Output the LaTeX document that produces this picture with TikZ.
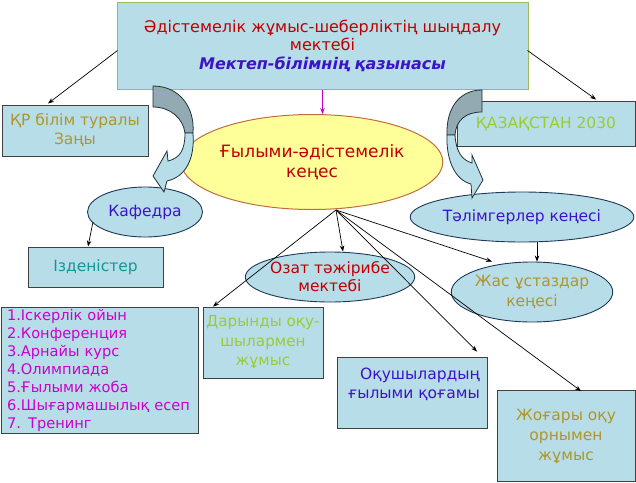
\documentclass[tikz,border=0pt]{standalone}
\usepackage{fontspec}
\setmainfont{DejaVu Sans}
\usetikzlibrary{arrows.meta,calc,shapes.geometric}

\definecolor{boxfill}{RGB}{183,221,232}
\definecolor{topborder}{RGB}{155,187,89}
\definecolor{boxborder}{RGB}{64,64,64}
\definecolor{ellborder}{RGB}{31,56,90}
\definecolor{yellowfill}{RGB}{255,255,153}
\definecolor{yellowborder}{RGB}{190,110,60}
\definecolor{darkred}{RGB}{192,0,0}
\definecolor{bluepurple}{RGB}{60,20,200}
\definecolor{olivetxt}{RGB}{176,150,40}
\definecolor{lgreen}{RGB}{153,204,51}
\definecolor{tealtxt}{RGB}{20,150,150}
\definecolor{magtxt}{RGB}{204,0,204}
\definecolor{arrowdark}{RGB}{147,170,178}
\definecolor{arrowline}{RGB}{30,50,60}

\begin{document}
\begin{tikzpicture}[x=1pt,y=-1pt,
  box/.style={draw=boxborder, line width=1pt, fill=boxfill, rectangle, inner sep=0pt, align=center},
  oval/.style={draw=ellborder, line width=0.9pt, fill=boxfill, ellipse, inner sep=0pt, align=center},
  conn/.style={draw=black, line width=0.7pt, -{Stealth[length=6pt,width=4.5pt]}},
  txt/.style={font=\fontsize{15.5}{19}\selectfont},
  curv/.style={draw=arrowline, line width=0.8pt}
]
\useasboundingbox (0,0) rectangle (636,482);

% boxes
\node[box, draw=topborder, minimum width=411pt, minimum height=87pt,
      font=\fontsize{16}{18.5}\selectfont] (top) at (322.5,45.5)
  {{\color{darkred}Әдістемелік жұмыс-шеберліктің шыңдалу}\\
   {\color{darkred}мектебі}\\
   {\color{bluepurple}\bfseries\itshape Мектеп-білімнің қазынасы}};

\node[box, txt, text=olivetxt, minimum width=146pt, minimum height=51pt] (qr) at (75,130.5)
  {ҚР білім туралы\\Заңы};

\node[box, txt, text=lgreen, minimum width=178pt, minimum height=45pt] (kaz) at (546,123.5)
  {ҚАЗАҚСТАН 2030};

\node[draw=yellowborder, line width=1pt, fill=yellowfill, ellipse, inner sep=0pt, align=center,
      minimum width=229pt, minimum height=95pt, text=darkred,
      font=\fontsize{17}{19.5}\selectfont] (cen) at (312,162)
  {Ғылыми-әдістемелік\\кеңес};

\node[oval, txt, text=bluepurple, minimum width=115pt, minimum height=50pt] (kaf) at (145,212)
  {Кафедра};

\node[box, txt, text=tealtxt, minimum width=135pt, minimum height=40pt] (izd) at (95.5,267)
  {Ізденістер};

\node[box, text=magtxt, minimum width=197pt, minimum height=126pt, align=left,
      text width=185pt, font=\fontsize{14.6}{18}\selectfont] (list) at (99.5,370)
  {1.Іскерлік ойын\\2.Конференция\\3.Арнайы курс\\4.Олимпиада\\5.Ғылыми жоба\\6.Шығармашылық есеп\\7. Тренинг};

\node[box, txt, text=lgreen, minimum width=120pt, minimum height=71pt,
      font=\fontsize{15.2}{19.5}\selectfont] (dar) at (263,342.5)
  {Дарынды оқу-\\шылармен\\жұмыс};

\node[oval, txt, text=darkred, minimum width=135pt, minimum height=50pt,
      font=\fontsize{15.5}{18}\selectfont] (ozat) at (330,277)
  {Озат тәжірибе\\мектебі};

\node[oval, txt, text=bluepurple, minimum width=169pt, minimum height=50pt] (tal) at (522,217)
  {Тәлімгерлер кеңесі};

\node[oval, txt, text=olivetxt, minimum width=150pt, minimum height=60pt,
      font=\fontsize{15.5}{20}\selectfont] (jas) at (532,292)
  {Жас ұстаздар\\кеңесі};

\node[box, minimum width=150pt, minimum height=71pt] (oqu) at (412,392.5) {};
\node[txt, text=bluepurple, align=right, anchor=east, inner sep=0pt,
      font=\fontsize{15.5}{18.5}\selectfont] (oqutxt) at (480,384.5)
  {Оқушылардың\\ғылыми қоғамы};

\node[box, txt, text=olivetxt, minimum width=138pt, minimum height=91pt,
      font=\fontsize{15.5}{20}\selectfont] (jog) at (566,436)
  {Жоғары оқу\\орнымен\\жұмыс};

% connectors
\coordinate (c0) at (336,210);
\draw[conn] ($(top.west)+(1,5)$) -- ($(qr.north)+(-27,-1)$);
\draw[conn] ($(top.east)+(-1,5)$) -- ($(kaz.north)+(50,-1)$);
\draw[conn, draw=magtxt] (top.south) -- (top.south |- cen.north);
\draw[conn] ($(kaf.center)+(-52,10)$) -- ($(izd.north)+(-7.5,0)$);
\draw[draw=boxborder, line width=0.8pt] ($(izd.south)+(-2.5,0)$) -- ($(izd.south)+(-2.5,0)$ |- list.north);
\draw[conn] (c0) -- ($(dar.north)+(-50,0)$);
\draw[conn] (c0) -- ($(ozat.north)+(13,0)$);
\draw[conn] (c0) -- ($(jas.north)+(-40,0)$);
\draw[conn] (c0) -- ($(oqu.north)+(65,-5)$);
\draw[conn] (c0) -- ($(jog.north)+(15,1)$);
\draw[conn] ($(tal.south)+(15,0)$) -- ($(jas.north)+(5,0)$);

% curved block arrows
\filldraw[curv, fill=arrowdark] (153,86) .. controls (180,86) and (195,108) .. (193,133)
  -- (185,133) .. controls (183,118) and (170,107) .. (153,107) -- cycle;
\filldraw[curv, fill=boxfill] (185,133) .. controls (185,150) and (180,158) .. (168,161)
  -- (167,151) -- (153,176) -- (164,192) -- (167,181)
  .. controls (185,177) and (195,160) .. (193,133) -- cycle;

\filldraw[curv, fill=arrowdark] (482,90) .. controls (458,90) and (446,110) .. (447,135)
  -- (455,135) .. controls (456,120) and (466,112) .. (482,112) -- cycle;
\filldraw[curv, fill=boxfill] (455,135) .. controls (456,152) and (462,160) .. (472,163)
  -- (472,155) -- (483,180) -- (472,198) -- (471,184)
  .. controls (455,180) and (446,160) .. (447,135) -- cycle;
\end{tikzpicture}
\end{document}
